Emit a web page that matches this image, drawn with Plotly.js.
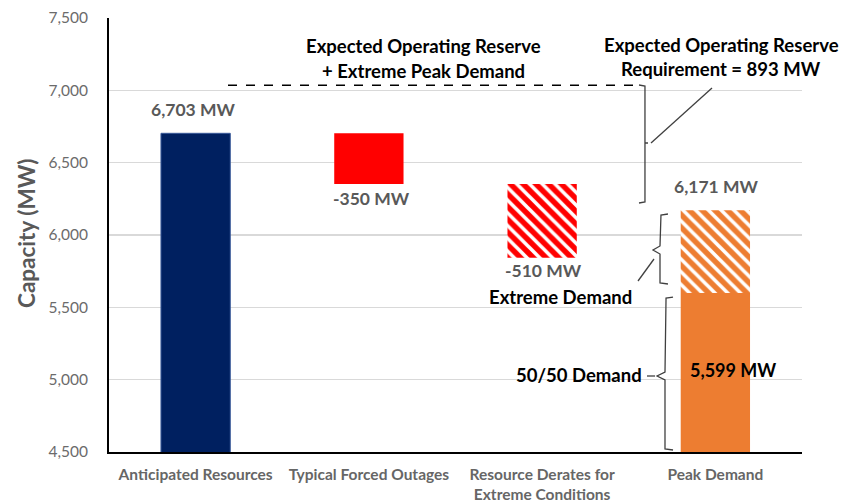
<!DOCTYPE html>
<html>
<head>
<meta charset="utf-8">
<script src="https://cdn.plot.ly/plotly-3.0.1.min.js"></script>
<style>html,body{margin:0;padding:0;background:#fff;}#chart{width:844px;height:503px;}</style>
</head>
<body>
<div id="chart"></div>
<script>
// ---- data ----
const categories = ['Anticipated Resources', 'Typical Forced Outages', 'Resource Derates for<br>Extreme Conditions', 'Peak Demand'];
const anticipatedResources = 6703;
const typicalForcedOutages = -350;
const resourceDerates = -510;
const demand5050 = 5599;
const extremePeakDemand = 6171;
const operatingReserveReq = 893;
const reserveLineLevel = 7035;   // dashed line level as drawn in the reference
const yTicks = [4500, 5000, 5500, 6000, 6500, 7000, 7500];

// ---- derived ----
const afterOutages = anticipatedResources + typicalForcedOutages;
const extremeIncrement = extremePeakDemand - demand5050;
const fmt = v => v.toLocaleString('en-US');

const NAVY = '#002060', RED = '#FF0000', ORANGE = '#ED7D31';
const GRAY = '#595959';
const FONT = 'Lato, "Open Sans", sans-serif';

const traces = [
  {type: 'bar', x: [categories[0]], y: [anticipatedResources], base: [0],
   marker: {color: NAVY, line: {color: '#3a5a9a', width: 1}}, width: 0.4, hoverinfo: 'skip'},
  {type: 'bar', x: [categories[1]], y: [typicalForcedOutages], base: [anticipatedResources],
   marker: {color: RED}, width: 0.4, hoverinfo: 'skip'},
  {type: 'bar', x: [categories[2]], y: [resourceDerates], base: [afterOutages],
   marker: {color: RED, pattern: {shape: '\\', fgcolor: '#ffffff', bgcolor: RED, size: 9, solidity: 0.4}},
   width: 0.4, hoverinfo: 'skip'},
  {type: 'bar', x: [categories[3]], y: [demand5050], base: [0],
   marker: {color: ORANGE}, width: 0.4, hoverinfo: 'skip'},
  {type: 'bar', x: [categories[3]], y: [extremeIncrement], base: [demand5050],
   marker: {color: ORANGE, pattern: {shape: '\\', fgcolor: '#ffffff', bgcolor: ORANGE, size: 9, solidity: 0.4}},
   width: 0.4, hoverinfo: 'skip'}
];

// pixel -> paper helpers (plot area: x 109..802, y 18..452)
const L = 109, R = 802, T = 18, B = 452;
const PX = x => (x - L) / (R - L);
const PY = y => (B - y) / (B - T);
const P = (x, y) => PX(x).toFixed(4) + ',' + PY(y).toFixed(4);

const lineStyle = {color: '#404040', width: 1.3};
const shapes = [
  // dashed reserve line
  {type: 'line', xref: 'paper', yref: 'y', x0: PX(228), x1: PX(638), y0: reserveLineLevel, y1: reserveLineLevel,
   line: {color: '#000', width: 1.3, dash: 'dash'}},
  // bracket: reserve requirement
  {type: 'path', xref: 'paper', yref: 'paper',
   path: 'M' + P(639, 85) + ' L' + P(645, 86) + ' L' + P(645, 202) + ' L' + P(639, 203) + ' M' + P(645, 143) + ' L' + P(648, 143),
   line: lineStyle},
  {type: 'line', xref: 'paper', yref: 'paper', x0: PX(651), y0: PY(143), x1: PX(712), y1: PY(88), line: lineStyle},
  // bracket: extreme demand
  {type: 'path', xref: 'paper', yref: 'paper',
   path: 'M' + P(668, 214) + ' L' + P(661, 215) + ' L' + P(660, 246) + ' L' + P(653, 250) + ' L' + P(660, 254) + ' L' + P(660, 283) + ' L' + P(668, 284),
   line: lineStyle},
  {type: 'line', xref: 'paper', yref: 'paper', x0: PX(654), y0: PY(259), x1: PX(638), y1: PY(281), line: lineStyle},
  // bracket: 50/50 demand
  {type: 'path', xref: 'paper', yref: 'paper',
   path: 'M' + P(673, 297) + ' L' + P(666, 298) + ' L' + P(665, 372) + ' L' + P(657, 376) + ' L' + P(665, 380) + ' L' + P(665, 449) + ' L' + P(673, 450),
   line: lineStyle},
  {type: 'line', xref: 'paper', yref: 'paper', x0: PX(647), y0: PY(376), x1: PX(655), y1: PY(376), line: lineStyle}
];

const lab = (text, x, y, color, size, opts) => Object.assign({
  text: text, xref: 'paper', yref: 'paper', x: PX(x), y: PY(y), showarrow: false,
  xanchor: 'center', yanchor: 'middle', font: {family: FONT, size: size, color: color}
}, opts || {});

const annotations = [
  lab('<b>' + fmt(anticipatedResources) + ' MW</b>', 193, 109, GRAY, 17.5),
  lab('<b>' + fmt(typicalForcedOutages) + ' MW</b>', 371, 198, GRAY, 17.5),
  lab('<b>' + fmt(resourceDerates) + ' MW</b>', 543, 270, GRAY, 17.5),
  lab('<b>' + fmt(extremePeakDemand) + ' MW</b>', 716, 186, GRAY, 17.5),
  lab('<b>' + fmt(demand5050) + ' MW</b>', 733, 370, '#000', 18),
  lab('<b>Extreme Demand</b>', 560, 297, '#000', 18.5),
  lab('<b>50/50 Demand</b>', 644, 375, '#000', 18.5, {xanchor: 'right'}),
  lab('<b>Expected Operating Reserve</b>', 423, 46, '#000', 18.5),
  lab('<b>+ Extreme Peak Demand</b>', 423, 71, '#000', 18.5),
  lab('<b>Expected Operating Reserve</b>', 721, 45, '#000', 18.5),
  lab('<b>Requirement = ' + operatingReserveReq + ' MW</b>', 721, 69, '#000', 18.5),
  lab('<b>Capacity (MW)</b>', 27, 234, GRAY, 22.5, {textangle: -90})
];

const layout = {
  width: 844, height: 503,
  margin: {l: L, r: 844 - R, t: T, b: 503 - B, pad: 0},
  paper_bgcolor: '#fff', plot_bgcolor: '#fff',
  showlegend: false, barmode: 'overlay',
  font: {family: FONT, color: GRAY},
  xaxis: {type: 'category', categoryorder: 'array', categoryarray: categories,
    showline: true, linecolor: '#000', linewidth: 2, showgrid: false, ticks: '',
    ticklabelstandoff: 7,
    tickfont: {family: FONT, size: 15.5, color: '#666666', weight: 'bold'}, automargin: false, fixedrange: true},
  yaxis: {range: [4500, 7500], tickvals: yTicks, ticktext: yTicks.map(fmt),
    showline: true, linecolor: '#000', linewidth: 2, showgrid: true, gridcolor: '#d9d9d9', gridwidth: 1.5,
    zeroline: false, ticks: '', ticklabelstandoff: 16,
    tickfont: {family: FONT, size: 15.5, color: '#6b6b6b'}, automargin: false, fixedrange: true},
  shapes: shapes,
  annotations: annotations
};

Plotly.newPlot('chart', traces, layout, {displayModeBar: false, staticPlot: true});
</script>
</body>
</html>
